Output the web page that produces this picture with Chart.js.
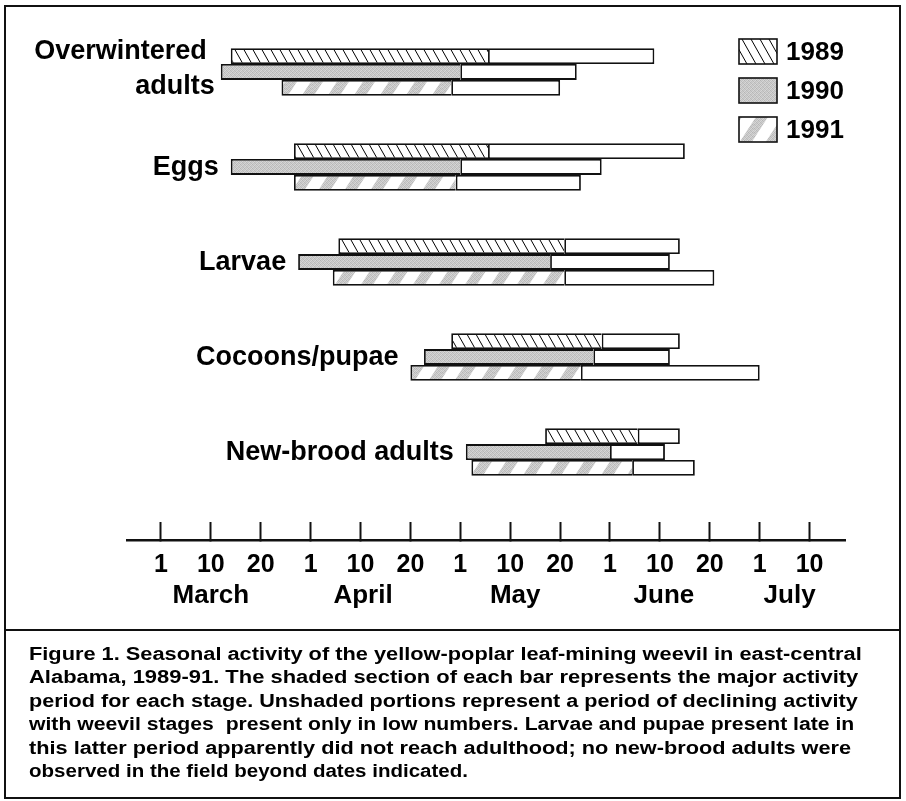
<!DOCTYPE html>
<html>
<head>
<meta charset="utf-8">
<script src="https://cdn.jsdelivr.net/npm/chart.js@4.4.1/dist/chart.umd.min.js"></script>
<style>
  body { margin: 0; background: #fff; font-family: "Liberation Sans", Arial, sans-serif; }
  #wrap { position: absolute; left: 0; top: 0; width: 906px; height: 628px; }
  #frame { position: absolute; left: 4px; top: 5px; width: 897px; height: 794px; border: 2px solid #111; box-sizing: border-box; }
  #sep { position: absolute; left: 4px; top: 629px; width: 897px; height: 2px; background: #111; }
  #caption { position: absolute; left: 29px; top: 643px; font-weight: bold; font-size: 18px; line-height: 23.4px; color: #000; }
  #caption div { white-space: pre; transform-origin: 0 0; width: max-content; }
</style>
</head>
<body>
<div id="wrap"><canvas id="myChart"></canvas></div>
<div id="frame"></div>
<div id="sep"></div>
<div id="caption"></div>
<script>
// stages, top to bottom
const stages = [['Overwintered', 'adults'], 'Eggs', 'Larvae', 'Cocoons/pupae', 'New-brood adults'];
const years = ['1989', '1990', '1991'];

// dates as month/day: first seen, end of major activity, last seen
const start1989 = ['3/14', '3/28', '4/6', '4/29', '5/17'];
const peak1989  = ['5/6', '5/6', '5/21', '5/30', '6/6'];
const end1989   = ['6/9', '6/15', '6/14', '6/14', '6/14'];

const start1990 = ['3/12', '3/14', '3/29', '4/23', '5/2'];
const peak1990  = ['5/1', '5/1', '5/18', '5/28', '6/1'];
const end1990   = ['5/24', '5/30', '6/12', '6/12', '6/11'];

const start1991 = ['3/25', '3/28', '4/5', '4/20', '5/3'];
const peak1991  = ['4/29', '4/30', '5/21', '5/25', '6/5'];
const end1991   = ['5/20', '5/25', '6/21', '7/1', '6/17'];

// axis ticks: 1, 10, 20 of each month, evenly spaced
const dayTicks = ['1', '10', '20', '1', '10', '20', '1', '10', '20', '1', '10', '20', '1', '10'];
const months = ['March', 'April', 'May', 'June', 'July'];
const monthPos = [1, 4.05, 7.1, 10.08, 12.6];

const captionLines = [
  'Figure 1. Seasonal activity of the yellow-poplar leaf-mining weevil in east-central',
  'Alabama, 1989-91. The shaded section of each bar represents the major activity',
  'period for each stage. Unshaded portions represent a period of declining activity',
  'with weevil stages  present only in low numbers. Larvae and pupae present late in',
  'this latter period apparently did not reach adulthood; no new-brood adults were',
  'observed in the field beyond dates indicated.'
];
// printed width of each caption line
const captionWidths = [833, 829, 829, 825, 822, 439];

// date -> position on the 1/10/20 axis (0 = March 1)
const monthLen = [31, 30, 31, 30, 31];
function dek(s) {
  const [m, d] = s.split('/').map(Number);
  const mi = m - 3;
  let r;
  if (d < 10) r = (d - 1) / 9;
  else if (d < 20) r = 1 + (d - 10) / 10;
  else r = 2 + (d - 20) / (monthLen[mi] - 19);
  return mi * 3 + r;
}

// fill patterns
function tile(w, h, draw) {
  const c = document.createElement('canvas');
  c.width = w; c.height = h;
  const cx = c.getContext('2d');
  draw(cx, w, h);
  return cx.createPattern(c, 'repeat');
}
const stipple = tile(4, 4, (cx) => {
  const g = [['#b4b4b4', '#d0d0d0', '#c2c2c2', '#d8d8d8'],
             ['#cfcfcf', '#bcbcbc', '#d6d6d6', '#c0c0c0'],
             ['#c4c4c4', '#d8d8d8', '#b8b8b8', '#cccccc'],
             ['#d6d6d6', '#c0c0c0', '#cdcdcd', '#bababa']];
  for (let y = 0; y < 4; y++) for (let x = 0; x < 4; x++) { cx.fillStyle = g[y][x]; cx.fillRect(x, y, 1, 1); }
});
const hatch = tile(9, 16, (cx, w, h) => {
  cx.fillStyle = '#fff'; cx.fillRect(0, 0, w, h);
  cx.strokeStyle = '#000'; cx.lineWidth = 1;
  for (let k = -1; k <= 1; k++) { cx.beginPath(); cx.moveTo(k * w, 0); cx.lineTo(k * w + w, h); cx.stroke(); }
});
const stripes = tile(26, 40, (cx, w, h) => {
  cx.fillStyle = '#fff'; cx.fillRect(0, 0, w, h);
  cx.fillStyle = stipple;
  const bw = 12;
  for (let k = -1; k <= 1; k++) {
    cx.beginPath();
    cx.moveTo(k * w, h); cx.lineTo(k * w + w, 0); cx.lineTo(k * w + w + bw, 0); cx.lineTo(k * w + bw, h);
    cx.closePath(); cx.fill();
  }
});
const fills = [hatch, stipple, stripes];

const starts = [start1989, start1990, start1991];
const peaks = [peak1989, peak1990, peak1991];
const ends = [end1989, end1990, end1991];

const datasets = [];
years.forEach((yr, k) => {
  // shaded part: major activity
  datasets.push({
    label: yr,
    stack: yr,
    data: stages.map((_, i) => ({ x: [dek(starts[k][i]), dek(peaks[k][i])], y: i })),
    backgroundColor: fills[k],
    borderSkipped: 'right'
  });
  // open part: low numbers
  datasets.push({
    label: yr + ' low',
    stack: yr,
    data: stages.map((_, i) => ({ x: [dek(peaks[k][i]), dek(ends[k][i])], y: i })),
    backgroundColor: '#fff',
    borderSkipped: false
  });
});

const FONT = '"Liberation Sans", Arial, sans-serif';

const stageLabels = {
  id: 'stageLabels',
  afterDatasetsDraw(chart) {
    const { ctx, scales: { x, y } } = chart;
    ctx.save();
    ctx.fillStyle = '#000';
    ctx.font = 'bold 27px ' + FONT;
    ctx.textAlign = 'right';
    ctx.textBaseline = 'middle';
    stages.forEach((name, i) => {
      const first = Math.min(dek(start1989[i]), dek(start1990[i]), dek(start1991[i]));
      const px = x.getPixelForValue(first) - 12;
      const py = y.getPixelForValue(i);
      if (Array.isArray(name)) {
        ctx.fillText(name[0], px - 2, py - 20);
        ctx.fillText(name[1], px + 6, py + 15);
      } else {
        ctx.fillText(name, px, py + 1);
      }
    });
    ctx.restore();
  }
};

const yearLegend = {
  id: 'yearLegend',
  afterDraw(chart) {
    const ctx = chart.ctx;
    ctx.save();
    ctx.font = 'bold 26px ' + FONT;
    ctx.textBaseline = 'middle';
    ctx.textAlign = 'left';
    years.forEach((yr, k) => {
      const top = 39 + k * 39;
      ctx.fillStyle = fills[k];
      ctx.fillRect(739, top, 38, 25);
      ctx.strokeStyle = '#111';
      ctx.lineWidth = 1.6;
      ctx.strokeRect(739, top, 38, 25);
      ctx.fillStyle = '#000';
      ctx.fillText(yr, 786, top + 14);
    });
    ctx.restore();
  }
};

const ctx = document.getElementById('myChart');
new Chart(ctx, {
  type: 'bar',
  data: { datasets: datasets },
  options: {
    indexAxis: 'y',
    responsive: true,
    maintainAspectRatio: false,
    animation: false,
    categoryPercentage: 0.5,
    barPercentage: 1,
    borderWidth: 1.8,
    borderColor: '#111',
    layout: { padding: { left: 127, right: 61, top: 20, bottom: 8 } },
    plugins: { legend: { display: false }, tooltip: { enabled: false } },
    scales: {
      y: {
        type: 'linear',
        display: false,
        offset: false,
        grid: { offset: false },
        reverse: true,
        min: -0.547,
        max: 4.926,
        afterBuildTicks: (s) => { s.ticks = stages.map((_, i) => ({ value: i })); }
      },
      x: {
        type: 'linear',
        position: 'bottom',
        weight: 0,
        stacked: false,
        min: -0.68,
        max: 13.71,
        afterBuildTicks: (s) => { s.ticks = dayTicks.map((_, i) => ({ value: i })); },
        afterFit: (s) => { s.height = 40; },
        border: { display: true, color: '#111', width: 2.5 },
        grid: { drawOnChartArea: false, drawTicks: true, tickLength: -18, tickColor: '#111', tickWidth: 2 },
        ticks: {
          autoSkip: false, maxRotation: 0, padding: 28, color: '#000',
          font: { family: FONT, size: 25, weight: 'bold' },
          callback: (v, i) => dayTicks[i]
        }
      },
      x2: {
        type: 'linear',
        position: 'bottom',
        weight: 1,
        min: -0.68,
        max: 13.71,
        afterBuildTicks: (s) => { s.ticks = monthPos.map((p) => ({ value: p })); },
        afterFit: (s) => { s.height = 40; },
        border: { display: false },
        grid: { display: false, drawTicks: false },
        ticks: {
          autoSkip: false, maxRotation: 0, padding: 0, color: '#000',
          font: { family: FONT, size: 26, weight: 'bold' },
          callback: (v, i) => months[i]
        }
      }
    }
  },
  plugins: [stageLabels, yearLegend]
});

// caption, each line stretched to its printed width
const cap = document.getElementById('caption');
captionLines.forEach((t, i) => {
  const d = document.createElement('div');
  d.textContent = t;
  cap.appendChild(d);
  d.style.transform = 'scaleX(' + (captionWidths[i] / d.getBoundingClientRect().width).toFixed(3) + ')';
});
</script>
</body>
</html>
